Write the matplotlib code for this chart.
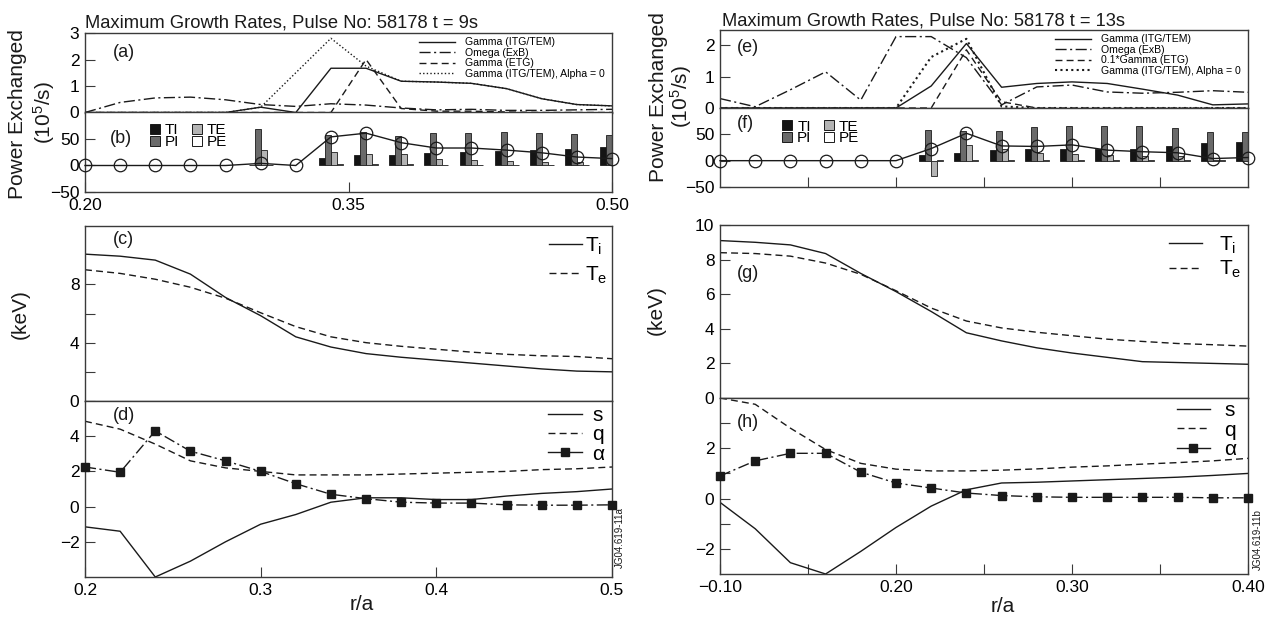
import numpy as np
import matplotlib
matplotlib.use("Agg")
import matplotlib.pyplot as plt
from matplotlib.lines import Line2D

plt.rcParams['font.family'] = ['Liberation Sans', 'DejaVu Sans']
plt.rcParams['mathtext.fontset'] = 'custom'
plt.rcParams['mathtext.rm'] = 'Liberation Sans'
plt.rcParams['mathtext.it'] = 'Liberation Sans:italic'

# ---------------- data ----------------
r_9 = [0.20, 0.22, 0.24, 0.26, 0.28, 0.30, 0.32, 0.34, 0.36, 0.38, 0.40, 0.42, 0.44, 0.46, 0.48, 0.50]
r_13 = [0.10, 0.12, 0.14, 0.16, 0.18, 0.20, 0.22, 0.24, 0.26, 0.28, 0.30, 0.32, 0.34, 0.36, 0.38, 0.40]

# growth rates, t = 9s
gamma_itg_9 = [0, 0, 0, 0, 0, 0.20, 0, 1.67, 1.67, 1.18, 1.15, 1.10, 0.90, 0.52, 0.30, 0.25]
omega_exb_9 = [0, 0.38, 0.55, 0.58, 0.48, 0.30, 0.23, 0.33, 0.28, 0.17, 0.10, 0.12, 0.08, 0.08, 0.10, 0.12]
gamma_etg_9 = [0, 0, 0, 0, 0, 0, 0, 0, 2.00, 0.15, 0.05, 0.05, 0.02, 0, 0, 0]
gamma_a0_9 = [0, 0, 0, 0, 0, 0.20, 1.50, 2.80, 1.75, 1.18, 1.15, 1.10, 0.90, 0.52, 0.30, 0.25]

# power exchanged, t = 9s (nan = not computed)
nan = float('nan')
ti_9 = [nan, nan, nan, nan, nan, 0, nan, 15, 19, 19, 24, 26, 27, 29, 32, 34]
pi_9 = [nan, nan, nan, nan, nan, 69, nan, 58, 64, 56, 62, 62, 63, 61, 60, 58]
te_9 = [nan, nan, nan, nan, nan, 29, nan, 26, 22, 22, 13, 11, 8, 6, 6, 6]
pe_9 = [nan, nan, nan, nan, nan, 0.5, nan, 2, 2, 2, 1, 1, 1, 1, 1, 1]
total_9 = [0, 0, 0, 0, 0, 4, 0, 54, 61, 43, 33, 33, 29, 24, 16, 13]

# profiles, t = 9s
ti_prof_9 = [10.07, 9.93, 9.66, 8.70, 7.10, 5.85, 4.40, 3.70, 3.25, 3.00, 2.80, 2.60, 2.40, 2.20, 2.05, 2.00]
te_prof_9 = [9.00, 8.75, 8.35, 7.80, 7.05, 6.05, 5.10, 4.40, 4.00, 3.75, 3.55, 3.35, 3.20, 3.10, 3.05, 2.90]
shear_9 = [-1.15, -1.40, -4.00, -3.10, -2.00, -1.00, -0.45, 0.25, 0.50, 0.50, 0.40, 0.40, 0.60, 0.75, 0.85, 1.00]
q_9 = [4.85, 4.40, 3.55, 2.60, 2.20, 2.00, 1.80, 1.80, 1.80, 1.85, 1.90, 1.95, 2.00, 2.10, 2.15, 2.25]
alpha_9 = [2.25, 1.95, 4.30, 3.15, 2.60, 2.00, 1.30, 0.70, 0.45, 0.25, 0.20, 0.20, 0.10, 0.08, 0.08, 0.10]

# growth rates, t = 13s
gamma_itg_13 = [0, 0, 0, 0, 0, 0, 0.70, 2.05, 0.66, 0.78, 0.83, 0.78, 0.60, 0.41, 0.10, 0.13]
omega_exb_13 = [0.30, 0.04, 0.58, 1.15, 0.25, 2.27, 2.27, 1.60, 0.10, 0.67, 0.73, 0.51, 0.47, 0.50, 0.55, 0.50]
gamma_etg_13 = [0, 0, 0, 0, 0, 0, 0, 1.85, 0.20, 0, 0, 0, 0, 0, 0, 0]
gamma_a0_13 = [0, 0, 0, 0, 0, 0, 1.62, 2.20, 0.05, 0, 0, 0, 0, 0, 0, 0]

# power exchanged, t = 13s
ti_13 = [nan, nan, nan, nan, nan, nan, 10, 14, 20, 22, 22, 23, 23, 28, 34, 35]
pi_13 = [nan, nan, nan, nan, nan, nan, 59, 57, 57, 64, 65, 66, 65, 62, 54, 54]
te_13 = [nan, nan, nan, nan, nan, nan, -30, 29, 23, 14, 12, 11, 9, 8, 2, 5]
pe_13 = [nan, nan, nan, nan, nan, nan, 0.5, 1, 1, 1, 1, 1, 1, 1, 1, 1]
total_13 = [0, 0, 0, 0, 0, 0, 23, 52, 28, 27, 30, 20, 17, 15, 4, 6]

# profiles, t = 13s
ti_prof_13 = [9.10, 9.00, 8.85, 8.35, 7.20, 6.15, 5.00, 3.77, 3.30, 2.90, 2.60, 2.35, 2.10, 2.05, 2.00, 1.95]
te_prof_13 = [8.40, 8.35, 8.20, 7.80, 7.15, 6.20, 5.20, 4.45, 4.05, 3.80, 3.60, 3.40, 3.27, 3.15, 3.08, 3.00]
shear_13 = [-0.15, -1.20, -2.55, -3.00, -2.10, -1.15, -0.30, 0.35, 0.62, 0.65, 0.70, 0.75, 0.80, 0.85, 0.92, 1.00]
q_13 = [4.00, 3.75, 2.80, 1.95, 1.40, 1.17, 1.10, 1.10, 1.13, 1.18, 1.25, 1.30, 1.37, 1.43, 1.50, 1.60]
alpha_13 = [0.90, 1.50, 1.80, 1.80, 1.05, 0.62, 0.42, 0.22, 0.12, 0.07, 0.05, 0.05, 0.05, 0.05, 0.03, 0.03]

# ---------------- styling ----------------
W, H = 1279, 623
fig = plt.figure(figsize=(W / 100, H / 100), dpi=100)
INK = '#1a1a1a'
SPINE = '#3a3a3a'
LW = 1.0
DASH = (0, (5, 3))
DASHDOT = (0, (8, 2.5, 1.5, 2.5))
DOT = (0, (1, 1.6))
TICK_FS = 12.5
LABEL_FS = 15


def box(x0, x1, y0, y1):
    return [x0 / W, 1 - y1 / H, (x1 - x0) / W, (y1 - y0) / H]


def style(ax):
    for s in ax.spines.values():
        s.set_color(SPINE)
        s.set_linewidth(1.0)
    ax.tick_params(direction='in', length=7, width=0.8, color=SPINE,
                   labelsize=TICK_FS, pad=4, top=False, right=False)


def panel_label(ax, txt, x, y):
    ax.text(x, y, txt, transform=ax.transAxes, fontsize=13, va='center', ha='left', color=INK)


def growth_panel(ax, r, g_itg, omega, g_etg, g_a0, etg_label, xlim, ylim, yticks, dot_lw):
    ax.plot(r, g_itg, color=INK, lw=LW, label='Gamma (ITG/TEM)')
    ax.plot(r, omega, color=INK, lw=LW, ls=DASHDOT, label='Omega (ExB)')
    ax.plot(r, g_etg, color=INK, lw=LW, ls=DASH, label=etg_label)
    ax.plot(r, g_a0, color=INK, lw=dot_lw, ls=DOT, label='Gamma (ITG/TEM), Alpha = 0')
    ax.set_xlim(*xlim)
    ax.set_ylim(*ylim)
    ax.set_xticks([])
    ax.set_yticks(yticks)
    ax.set_yticklabels([str(t) for t in yticks])
    style(ax)
    ax.legend(loc='upper right', bbox_to_anchor=(1.0, 1.04), frameon=False, fontsize=7.6,
              handlelength=3.4, labelspacing=0.05, handletextpad=0.9, borderpad=0.2)


def power_panel(ax, r, ti, pi, te, pe, total, xlim, legend_anchor):
    w = 0.0034
    r = np.asarray(r)
    specs = [(ti, '#141414', 'TI'), (pi, '#6a6a6a', 'PI'), (te, '#b4b4b4', 'TE'), (pe, 'white', 'PE')]
    for k, (vals, col, _) in enumerate(specs):
        v = np.asarray(vals, dtype=float)
        ok = ~np.isnan(v)
        ax.bar(r[ok] + (k - 1.5) * w, v[ok], width=w, color=col, edgecolor=INK, linewidth=0.6, zorder=2)
    ax.plot(r, total, color=INK, lw=LW, marker='o', ms=9, mfc='none', mec=INK, mew=0.9,
            zorder=3, clip_on=False)
    ax.set_xlim(*xlim)
    ax.set_ylim(-50, 100)
    ax.set_yticks([-50, 0, 50])
    ax.set_yticklabels(['\u221250', '0', '50'])
    style(ax)
    handles = [Line2D([], [], ls='none', marker='s', ms=7.5, mfc=col, mec=INK, mew=0.7, label=lab)
               for _, col, lab in specs]
    ax.legend(handles=handles, loc='upper left', bbox_to_anchor=legend_anchor, ncol=2, frameon=False,
              fontsize=11, handlelength=0.7, handletextpad=0.3, labelspacing=-0.15,
              columnspacing=0.8, borderpad=0.1)


def temp_panel(ax, r, ti, te, xlim, ylim, yticks, ylabels, leg_anchor, leg_pad, leg_space):
    ax.plot(r, ti, color=INK, lw=LW, label=r'T$_{\rm i}$')
    ax.plot(r, te, color=INK, lw=LW, ls=DASH, label=r'T$_{\rm e}$')
    ax.set_xlim(*xlim)
    ax.set_ylim(*ylim)
    ax.set_xticks([])
    ax.set_yticks(yticks)
    ax.set_yticklabels(ylabels)
    style(ax)
    ax.legend(loc='upper right', bbox_to_anchor=leg_anchor, frameon=False, fontsize=15,
              handlelength=1.6, handletextpad=leg_pad, labelspacing=leg_space, borderpad=0.3)


def mhd_panel(ax, r, s, q, alpha, xlim, ylim, yticks, ylabels, xticks, xlabels, leg_anchor, leg_pad):
    ax.plot(r, s, color=INK, lw=LW)
    ax.plot(r, q, color=INK, lw=LW, ls=DASH)
    ax.plot(r, alpha, color=INK, lw=LW, ls=DASHDOT, marker='s', ms=5.5, mfc=INK, mec=INK,
            clip_on=False, zorder=3)
    ax.set_xlim(*xlim)
    ax.set_ylim(*ylim)
    ax.set_yticks(yticks)
    ax.set_yticklabels(ylabels)
    ax.set_xticks(xticks)
    ax.set_xticklabels(xlabels)
    style(ax)
    handles = [Line2D([], [], color=INK, lw=LW, label='s'),
               Line2D([], [], color=INK, lw=LW, ls=DASH, label='q'),
               Line2D([], [], color=INK, lw=LW, marker='s', ms=5.5, label='\u03b1')]
    ax.legend(handles=handles, loc='upper right', bbox_to_anchor=leg_anchor, frameon=False,
              fontsize=15, handlelength=1.6, handletextpad=leg_pad, labelspacing=0.02, borderpad=0.2)


# ---------------- left column: t = 9s ----------------
xl9 = (0.20, 0.50)
ax_a = fig.add_axes(box(85, 612, 33, 112.5))
growth_panel(ax_a, r_9, gamma_itg_9, omega_exb_9, gamma_etg_9, gamma_a0_9, 'Gamma (ETG)',
             xl9, (0, 3.0), [0, 1, 2, 3], LW)
panel_label(ax_a, '(a)', 0.053, 0.75)

ax_b = fig.add_axes(box(85, 612, 112.5, 192))
power_panel(ax_b, r_9, ti_9, pi_9, te_9, pe_9, total_9, xl9, (0.105, 0.98))
ax_b.set_xticks([0.20, 0.35, 0.50])
ax_b.set_xticklabels(['0.20', '0.35', '0.50'])
panel_label(ax_b, '(b)', 0.047, 0.67)

ax_c = fig.add_axes(box(85, 612, 226, 401))
temp_panel(ax_c, r_9, ti_prof_9, te_prof_9, xl9, (0, 12), [0, 2, 4, 6, 8], ['0', '', '4', '', '8'],
           (1.023, 1.04), 0.15, 0.35)
panel_label(ax_c, '(c)', 0.053, 0.92)

ax_d = fig.add_axes(box(85, 612, 401, 577))
mhd_panel(ax_d, r_9, shear_9, q_9, alpha_9, xl9, (-4, 6), [-2, 0, 2, 4], ['\u22122', '0', '2', '4'],
          [0.2, 0.3, 0.4, 0.5], ['0.2', '0.3', '0.4', '0.5'], (1.013, 1.055), 0.5)
panel_label(ax_d, '(d)', 0.053, 0.915)

# ---------------- right column: t = 13s ----------------
xl13 = (0.10, 0.40)
ax_e = fig.add_axes(box(720, 1248, 30, 108))
growth_panel(ax_e, r_13, gamma_itg_13, omega_exb_13, gamma_etg_13, gamma_a0_13, '0.1*Gamma (ETG)',
             xl13, (0, 2.48), [0, 1, 2], 1.5)
panel_label(ax_e, '(e)', 0.032, 0.77)

ax_f = fig.add_axes(box(720, 1248, 108, 187))
power_panel(ax_f, r_13, ti_13, pi_13, te_13, pe_13, total_13, xl13, (0.10, 0.97))
ax_f.set_xticks([0.15, 0.20, 0.25, 0.30, 0.35])
ax_f.set_xticklabels([])
panel_label(ax_f, '(f)', 0.032, 0.81)

ax_g = fig.add_axes(box(720, 1248, 225, 398))
temp_panel(ax_g, r_13, ti_prof_13, te_prof_13, xl13, (0, 10), [0, 2, 4, 6, 8, 10],
           ['0', '2', '4', '6', '8', '10'], (1.019, 1.04), 0.8, 0.15)
panel_label(ax_g, '(g)', 0.032, 0.72)

ax_h = fig.add_axes(box(720, 1248, 398, 574))
mhd_panel(ax_h, r_13, shear_13, q_13, alpha_13, xl13, (-3, 4), [-2, -1, 0, 1, 2, 3],
          ['\u22122', '', '0', '', '2', ''],
          [0.10, 0.15, 0.20, 0.25, 0.30, 0.35, 0.40],
          ['\u22120.10', '', '0.20', '', '0.30', '', '0.40'], (1.006, 1.065), 0.7)
panel_label(ax_h, '(h)', 0.032, 0.86)

# ---------------- figure text ----------------
fig.text(85 / W, 1 - 28 / H, 'Maximum Growth Rates, Pulse No: 58178 t = 9s', fontsize=13.2,
         ha='left', va='baseline', color=INK)
fig.text(722 / W, 1 - 26 / H, 'Maximum Growth Rates, Pulse No: 58178 t = 13s', fontsize=13.2,
         ha='left', va='baseline', color=INK)

for xc, yc, x2, y2 in [(18, 114, 44, 113), (658, 97, 681, 97)]:
    fig.text(xc / W, 1 - yc / H, 'Power Exchanged', rotation=90, fontsize=LABEL_FS,
             ha='center', va='center', color=INK)
    fig.text(x2 / W, 1 - y2 / H, '(10$^5$/s)', rotation=90, fontsize=LABEL_FS,
             ha='center', va='center', color=INK)

fig.text(20 / W, 1 - 314 / H, '(keV)', rotation=90, fontsize=LABEL_FS, ha='center', va='center', color=INK)
fig.text(656 / W, 1 - 310 / H, '(keV)', rotation=90, fontsize=LABEL_FS, ha='center', va='center', color=INK)

fig.text(362 / W, 1 - 604 / H, 'r/a', fontsize=LABEL_FS, ha='center', va='center', color=INK)
fig.text(1003 / W, 1 - 607 / H, 'r/a', fontsize=LABEL_FS, ha='center', va='center', color=INK)

fig.text(620 / W, 1 - 538 / H, 'JG04.619-11a', rotation=90, fontsize=7, ha='center', va='center', color=INK)
fig.text(1258 / W, 1 - 540 / H, 'JG04.619-11b', rotation=90, fontsize=7, ha='center', va='center', color=INK)

fig.savefig('out.png', dpi=100, facecolor='white')
